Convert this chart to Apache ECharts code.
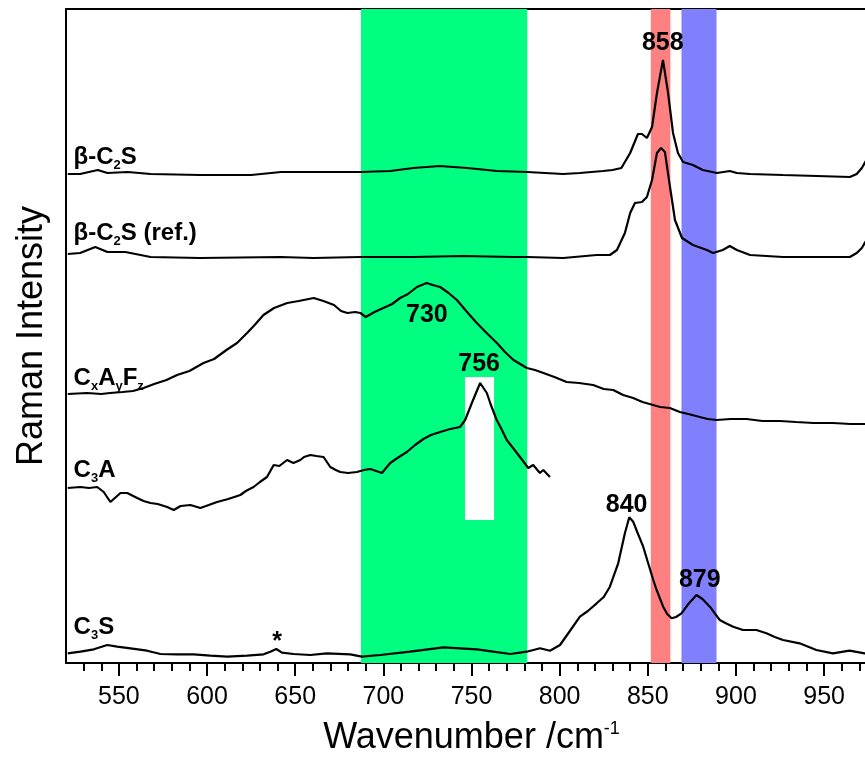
<!DOCTYPE html>
<html>
<head>
<meta charset="utf-8">
<script src="https://cdn.jsdelivr.net/npm/echarts@6/dist/echarts.min.js"></script>
<style>html,body{margin:0;padding:0;background:#fff}#c{width:865px;height:758px}</style>
</head>
<body>
<div id="c"></div>
<script>
// Spectra: [wavenumber, offset intensity]
const betaC2S = [[521,489],[528,489],[538,493],[543.5,490],[555,491],[568,489],[596,488],[625,488],[642,491],[653,491],[687,491],[704,492],[717,495],[732,497],[747.5,495],[764.5,492],[781.5,491],[802,489],[811.5,490],[824.6,492],[830,493],[835,495],[840,510],[844.4,529],[846.7,529],[849.5,525],[852.4,536],[855.2,570],[858.6,603],[861.5,570],[864.3,530],[867.1,510],[870,501],[875.6,498],[881.2,493],[889.2,490],[896.5,492],[900.5,490],[908,489],[926.6,488],[946,487],[964.6,486],[968.5,489],[971.4,495],[973,500],[978,515]];
const betaC2SRef = [[521,409],[528,410],[536.6,416],[543.5,411],[553.7,411],[568,406],[596,405],[641.6,406],[660.3,405],[687,406],[717,406],[745,407],[773.6,406],[781.5,406],[802,405],[821,408],[828.5,408],[832.5,413],[837,430],[840,450],[842.7,460],[846.7,461],[849.5,466],[852.4,483],[855.2,510],[857.5,515],[859.7,511],[862.6,476],[865.4,443],[869.4,425],[875.6,418],[883.5,413],[887,410],[892.5,413],[896.5,417],[900.5,413],[908,408],[926.6,406],[946,406],[964.6,406],[968.5,410],[971.4,415],[973,420],[978,433]];
const cxAyFz = [[521,269],[532,270],[540,269],[545,270],[552,271],[558,272],[564,275],[570,279],[577,283],[583,288],[590,292],[598,300],[604,304],[611,313],[617,320],[622.7,330],[627,338],[632,348],[638,355],[645.5,360],[652,362],[660.5,365],[666,362],[672,358],[676,352],[679.6,350],[684,351],[687,350],[690,346],[695,351],[700,355],[705,359],[709.5,365],[714,369],[719,376],[724.6,380],[728,378],[732.2,376],[737,370],[741.7,363],[747,352],[753,340],[758,331],[764.4,320],[769,311],[773.8,303],[781.4,295],[786,293],[790.8,290],[797,286],[804,281],[811,280],[819,278],[825,274],[830.4,273],[836,268],[841.7,265],[847,261],[853,258],[857,256],[862.5,255],[868.2,251],[873,249],[879.5,246],[884,244],[889,243],[897,244],[906,244],[915,242],[925,242],[934,241],[944,240],[955,240],[965,239],[973,239],[978,239]];
const c3A = [[521,175],[528.2,176],[533,175],[537.7,176],[541.4,171],[545.2,161],[550.9,170],[554.7,170],[560.4,165],[564,162],[567.9,160],[572,159],[577.4,156],[581.1,153],[585,157],[590.6,158],[596.2,155],[601,158],[605.7,161],[612,164],[618.9,168],[622,172],[626.4,176],[630,181],[634,186],[637.8,198],[641,197],[645.4,203],[649,200],[652.9,203],[655,206],[658.6,208],[662,207],[666.1,206],[669.9,196],[673,193],[675.6,191],[680,190],[685,191],[689,193],[692.6,194],[696,192],[699.2,190],[703.9,200],[708,205],[713.3,211],[718,218],[722.7,224],[727,228],[732.2,231],[738,234],[743.5,236],[746.4,243],[750.2,260],[754.9,280],[758.7,270],[761,258],[764.3,243],[767,234],[770,223],[774,214],[777.5,206],[782.2,195],[785,198],[788.8,190],[790.7,193],[794.5,186]];
const c3S = [[521,9.7],[528.2,11.3],[535.8,13.7],[543.4,18],[549,16.3],[556.6,14.7],[566,12.3],[573.6,9],[583,8.7],[592.4,8.7],[601.9,7.3],[611.4,6.3],[622.7,7.3],[632.1,8.7],[635.9,11.3],[639.3,14],[642.5,10.3],[649.1,9],[658.5,8],[668,9.7],[681.2,8.7],[687.8,6.3],[698.2,8],[715.2,11.3],[734.1,15.7],[753,13.7],[762.4,11.3],[772,9],[781.3,11.3],[788.9,14.7],[794.5,12.3],[800.2,18],[805,30],[811.5,46.3],[816,52],[821,59.7],[825,66],[828.5,76.3],[833.2,99.7],[837,129.7],[839.5,145.7],[841.7,141.3],[844,131],[847.4,116.3],[850,101],[853.1,83],[855,73],[858.7,56.3],[861,49],[863.5,44.7],[866,46],[869.1,49.7],[873,59],[877.6,68],[881,64],[885.2,56.3],[890.8,43],[894,40],[898.4,36.3],[904,33],[911.6,33],[917.3,29.7],[922,26],[926.7,23],[936.1,19.7],[945.6,13],[955,9.7],[964.4,12.3],[973,9.7],[978,9]];

// Axis ticks
const majorTicks = [550, 600, 650, 700, 750, 800, 850, 900, 950];
const minorTicks = [530, 540, 560, 570, 580, 590, 610, 620, 630, 640, 660, 670, 680, 690, 710, 720, 730, 740, 760, 770, 780, 790, 810, 820, 830, 840, 860, 870, 880, 890, 910, 920, 930, 940, 960, 970];

// Highlight bands [start, end] in cm-1
const greenBand = [687.3, 781.6];
const redBand = [851.7, 862.8];
const blueBand = [869.1, 889.0];
const whiteBox = [746.3, 762.8, 143, 286]; // x0, x1, y0, y1

// Peak annotations
const peakTexts = ['858', '730', '756', '840', '879', '*'];
const peakX = [858.5, 724.7, 754.3, 838, 879.5, 639.7];
const peakY = [620, 348, 299, 158, 83, 21];

// Spectrum names
const curveNames = ['β-C{s|2}S', 'β-C{s|2}S (ref.)', 'C{s|x}A{s|y}F{s|z}', 'C{s|3}A', 'C{s|3}S'];
const curveNameX = [524.3, 524.3, 524.3, 524.3, 524.3];
const curveNameY = [506, 430, 285, 193, 36];

const FONT = 'Liberation Sans, Arial, sans-serif';
const chart = echarts.init(document.getElementById('c'));

function lineSeries(data) {
  return { type: 'line', data: data, showSymbol: false, symbol: 'none', smooth: false,
    lineStyle: { color: '#000', width: 2.2 }, z: 3, silent: true, animation: false };
}

chart.setOption({
  animation: false,
  grid: { left: 66, top: 9, right: -12, bottom: 95, show: true, borderColor: '#000', borderWidth: 2,
    backgroundColor: 'transparent', outerBoundsMode: 'none', containLabel: false },
  xAxis: [{
    type: 'value', min: 520, max: 980, position: 'bottom',
    name: 'Wavenumber /cm{sup|-1}', nameLocation: 'middle', nameGap: 57,
    nameTextStyle: { fontFamily: FONT, fontSize: 36, color: '#000',
      rich: { sup: { fontFamily: FONT, fontSize: 18, color: '#000', verticalAlign: 'top', padding: [0,0,18,0] } } },
    axisLine: { show: true, lineStyle: { color: '#000', width: 2 } },
    axisTick: { show: true, length: 13, customValues: majorTicks, lineStyle: { color: '#000', width: 2 } },
    splitLine: { show: false },
    axisLabel: { fontFamily: FONT, fontSize: 25, color: '#000', margin: 22, customValues: majorTicks }
  }, {
    type: 'value', min: 520, max: 980, position: 'bottom', gridIndex: 0,
    axisLine: { show: false },
    axisTick: { show: true, length: 8, customValues: minorTicks, lineStyle: { color: '#000', width: 2 } },
    axisLabel: { show: false }, splitLine: { show: false }
  }],
  yAxis: {
    type: 'value', min: 0, max: 654,
    name: 'Raman Intensity', nameLocation: 'middle', nameGap: 16,
    nameTextStyle: { fontFamily: FONT, fontSize: 36, color: '#000' },
    axisLine: { show: true, lineStyle: { color: '#000', width: 2 } },
    axisTick: { show: false }, axisLabel: { show: false }, splitLine: { show: false }
  },
  series: [
    { type: 'line', data: [], z: 1, silent: true,
      markArea: { silent: true, data: [
        [{ xAxis: greenBand[0], itemStyle: { color: '#00FF80', opacity: 1 } }, { xAxis: greenBand[1] }],
        [{ xAxis: redBand[0], itemStyle: { color: '#FF8080', opacity: 1 } }, { xAxis: redBand[1] }],
        [{ xAxis: blueBand[0], itemStyle: { color: '#8080FF', opacity: 1 } }, { xAxis: blueBand[1] }],
        [{ coord: [whiteBox[0], whiteBox[2]], itemStyle: { color: '#FFFFFF', opacity: 1 } }, { coord: [whiteBox[1], whiteBox[3]] }]
      ] } },
    lineSeries(betaC2S), lineSeries(betaC2SRef), lineSeries(cxAyFz), lineSeries(c3A), lineSeries(c3S),
    { type: 'scatter', symbolSize: 0, z: 5, silent: true, itemStyle: { opacity: 1 },
      data: peakTexts.map((t, i) => ({ value: [peakX[i], peakY[i]], label: { formatter: t } })),
      label: { show: true, position: 'inside', fontFamily: FONT, fontSize: 25, fontWeight: 'bold', color: '#000', textBorderWidth: 0, opacity: 1 } },
    { type: 'scatter', symbolSize: 0, z: 5, silent: true, itemStyle: { opacity: 1 },
      data: curveNames.map((t, i) => ({ value: [curveNameX[i], curveNameY[i]], label: { formatter: t } })),
      label: { show: true, position: 'right', distance: 0, fontFamily: FONT, fontSize: 24, fontWeight: 'bold', color: '#000', lineHeight: 30, textBorderWidth: 0, opacity: 1,
        rich: { s: { fontFamily: FONT, fontSize: 13, fontWeight: 'bold', color: '#000', verticalAlign: 'bottom', lineHeight: 13 } } } }
  ]
});
</script>
</body>
</html>
